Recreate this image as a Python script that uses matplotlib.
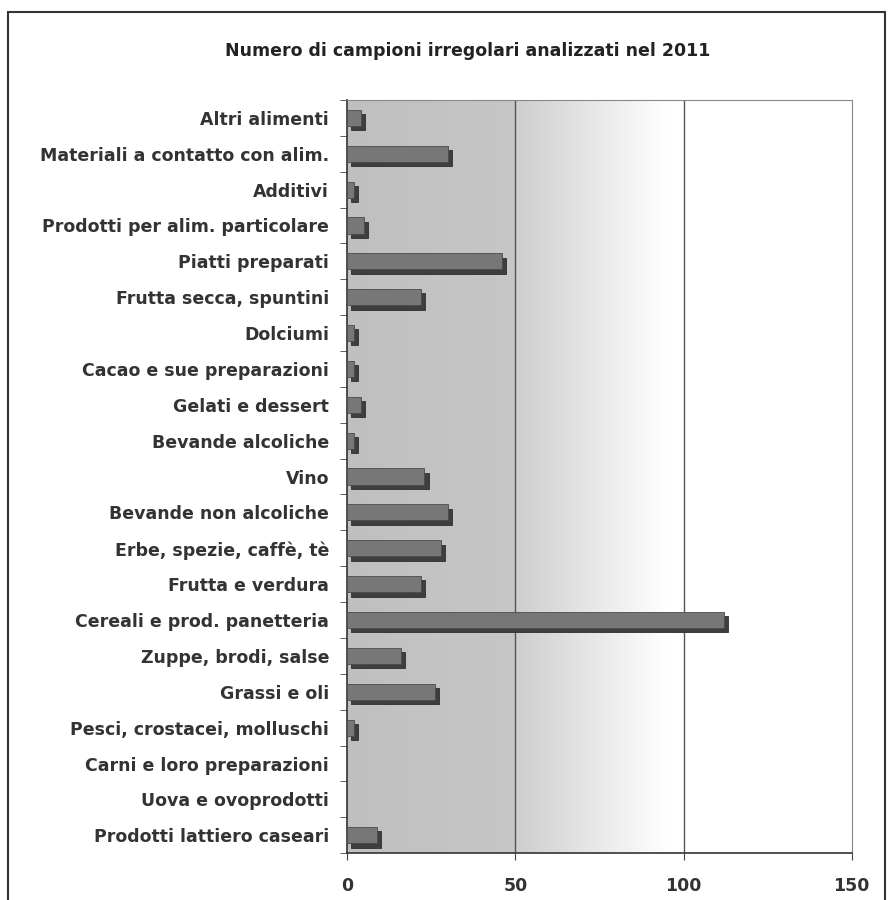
import numpy as np
import matplotlib
matplotlib.use("Agg")
import matplotlib.pyplot as plt
from matplotlib.patches import Rectangle

plt.rcParams['font.family'] = ['DejaVu Sans']

# categorie dall'alto verso il basso
categorie = [
    "Altri alimenti",
    "Materiali a contatto con alim.",
    "Additivi",
    "Prodotti per alim. particolare",
    "Piatti preparati",
    "Frutta secca, spuntini",
    "Dolciumi",
    "Cacao e sue preparazioni",
    "Gelati e dessert",
    "Bevande alcoliche",
    "Vino",
    "Bevande non alcoliche",
    "Erbe, spezie, caffè, tè",
    "Frutta e verdura",
    "Cereali e prod. panetteria",
    "Zuppe, brodi, salse",
    "Grassi e oli",
    "Pesci, crostacei, molluschi",
    "Carni e loro preparazioni",
    "Uova e ovoprodotti",
    "Prodotti lattiero caseari",
]
valori = [4, 30, 2, 5, 46, 22, 2, 2, 4, 2, 23, 30, 28, 22, 112, 16, 26, 2, 0, 0, 9]
xticks = [0, 50, 100, 150]
titolo = "Numero di campioni irregolari analizzati nel 2011"

fig = plt.figure(figsize=(8.9, 9.0), dpi=100)
ax = fig.add_axes([0.390, 0.052, 0.567, 0.837])

n = len(categorie)
y = np.arange(n)

# sfondo sfumato grigio -> bianco
xs = np.linspace(0, 150, 600)
g = np.interp(xs, [0, 50, 50.5, 95, 150], [0.75, 0.78, 0.81, 1.0, 1.0])
img = np.dstack([g, g, g])  # forma (1, 600, 3)
ax.imshow(img, extent=[0, 150, n - 0.5, -0.5], aspect='auto', zorder=0)

# griglia
for xv in [50, 100]:
    ax.axvline(xv, color='#555555', lw=1.0, zorder=1)

# barre con ombra (effetto 3D)
vals = np.array(valori, dtype=float)
mask = vals > 0
ax.barh(y[mask] + 0.12, vals[mask], left=1.2, height=0.45,
        color='#3e3e3e', edgecolor='#2e2e2e', lw=0.6, zorder=2)
ax.barh(y[mask], vals[mask], height=0.45,
        color='#777777', edgecolor='#4a4a4a', lw=0.6, zorder=3)

ax.set_xlim(0, 150)
ax.set_ylim(n - 0.5, -0.5)
ax.set_xticks(xticks)
ax.set_xticklabels([str(v) for v in xticks], fontsize=12.5,
                   fontweight='bold', color='#333333')
ax.set_yticks(y)
ax.set_yticklabels(categorie, fontsize=12.5, fontweight='bold', color='#333333')
ax.set_yticks(np.arange(n + 1) - 0.5, minor=True)
ax.tick_params(axis='y', which='major', length=0, pad=13)
ax.tick_params(axis='y', which='minor', length=5, color='#444444', direction='out')
ax.tick_params(axis='x', length=5, color='#444444', pad=12)

for s in ['top', 'right']:
    ax.spines[s].set_color('#888888')
for s in ['left', 'bottom']:
    ax.spines[s].set_color('#333333')
    ax.spines[s].set_linewidth(1.2)

fig.text(0.525, 0.943, titolo, ha='center', va='center', fontsize=12.5,
         fontweight='bold', color='#222222')

# cornice esterna
fig.patches.append(Rectangle((0.009, -0.05), 0.985, 1.037, transform=fig.transFigure,
                             fill=False, edgecolor='#333333', lw=1.5))

fig.savefig("out.png", dpi=100)
